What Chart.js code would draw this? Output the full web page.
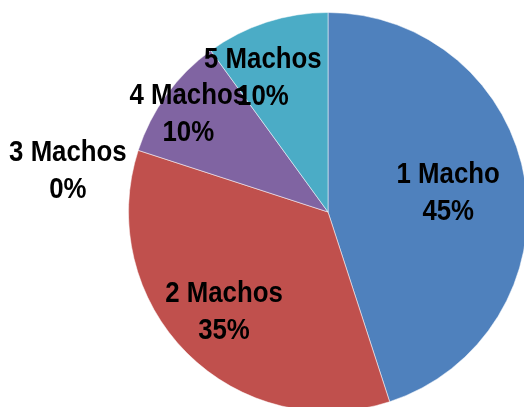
<!DOCTYPE html>
<html>
<head>
<meta charset="utf-8">
<script src="https://cdn.jsdelivr.net/npm/chart.js@4/dist/chart.umd.min.js"></script>
<style>
  html, body { margin: 0; padding: 0; width: 524px; height: 407px; overflow: hidden; background: #fff; }
  #wrap { position: absolute; left: 0; top: 0; width: 540px; height: 424px; }
</style>
</head>
<body>
<div id="wrap"><canvas id="c"></canvas></div>
<script>
const categories = ['1 Macho', '2 Machos', '3 Machos', '4 Machos', '5 Machos'];
const percentages = [45, 35, 0, 10, 10];
const sliceColors = ['#4F81BD', '#C0504D', '#9BBB59', '#8064A2', '#4BACC6'];
// label placement relative to each slice (fraction of radius, angle shift in degrees)
const labelRadius = [0.61, 0.725, 1.32, 0.855, 0.745];
const labelAngleShift = [0, 1, -9, -1, -8];

const labelPlugin = {
  id: 'sliceLabels',
  afterDatasetsDraw(chart) {
    const ctx = chart.ctx;
    const meta = chart.getDatasetMeta(0);
    meta.data.forEach((arc, i) => {
      const p = arc.getProps(['x', 'y', 'startAngle', 'endAngle', 'outerRadius'], true);
      const mid = (p.startAngle + p.endAngle) / 2 + labelAngleShift[i] * Math.PI / 180;
      const r = p.outerRadius * labelRadius[i];
      const cx = p.x + Math.cos(mid) * r;
      const cy = p.y + Math.sin(mid) * r;
      ctx.save();
      ctx.font = 'bold 30px "Liberation Sans", Arial, sans-serif';
      ctx.fillStyle = '#000';
      ctx.textAlign = 'center';
      ctx.textBaseline = 'middle';
      ctx.translate(cx, cy);
      ctx.scale(0.86, 1);
      ctx.fillText(categories[i], 0, -18.5);
      ctx.fillText(percentages[i] + '%', 0, 18.5);
      ctx.restore();
    });
  }
};

new Chart(document.getElementById('c'), {
  type: 'pie',
  data: {
    labels: categories,
    datasets: [{
      data: percentages,
      backgroundColor: sliceColors,
      borderColor: 'rgba(255,255,255,0.5)',
      borderWidth: 1
    }]
  },
  options: {
    responsive: true,
    maintainAspectRatio: false,
    animation: false,
    layout: { padding: { left: 128, top: 12, right: 12, bottom: 12 } },
    plugins: { legend: { display: false }, tooltip: { enabled: false }, title: { display: false } }
  },
  plugins: [labelPlugin]
});
</script>
</body>
</html>
